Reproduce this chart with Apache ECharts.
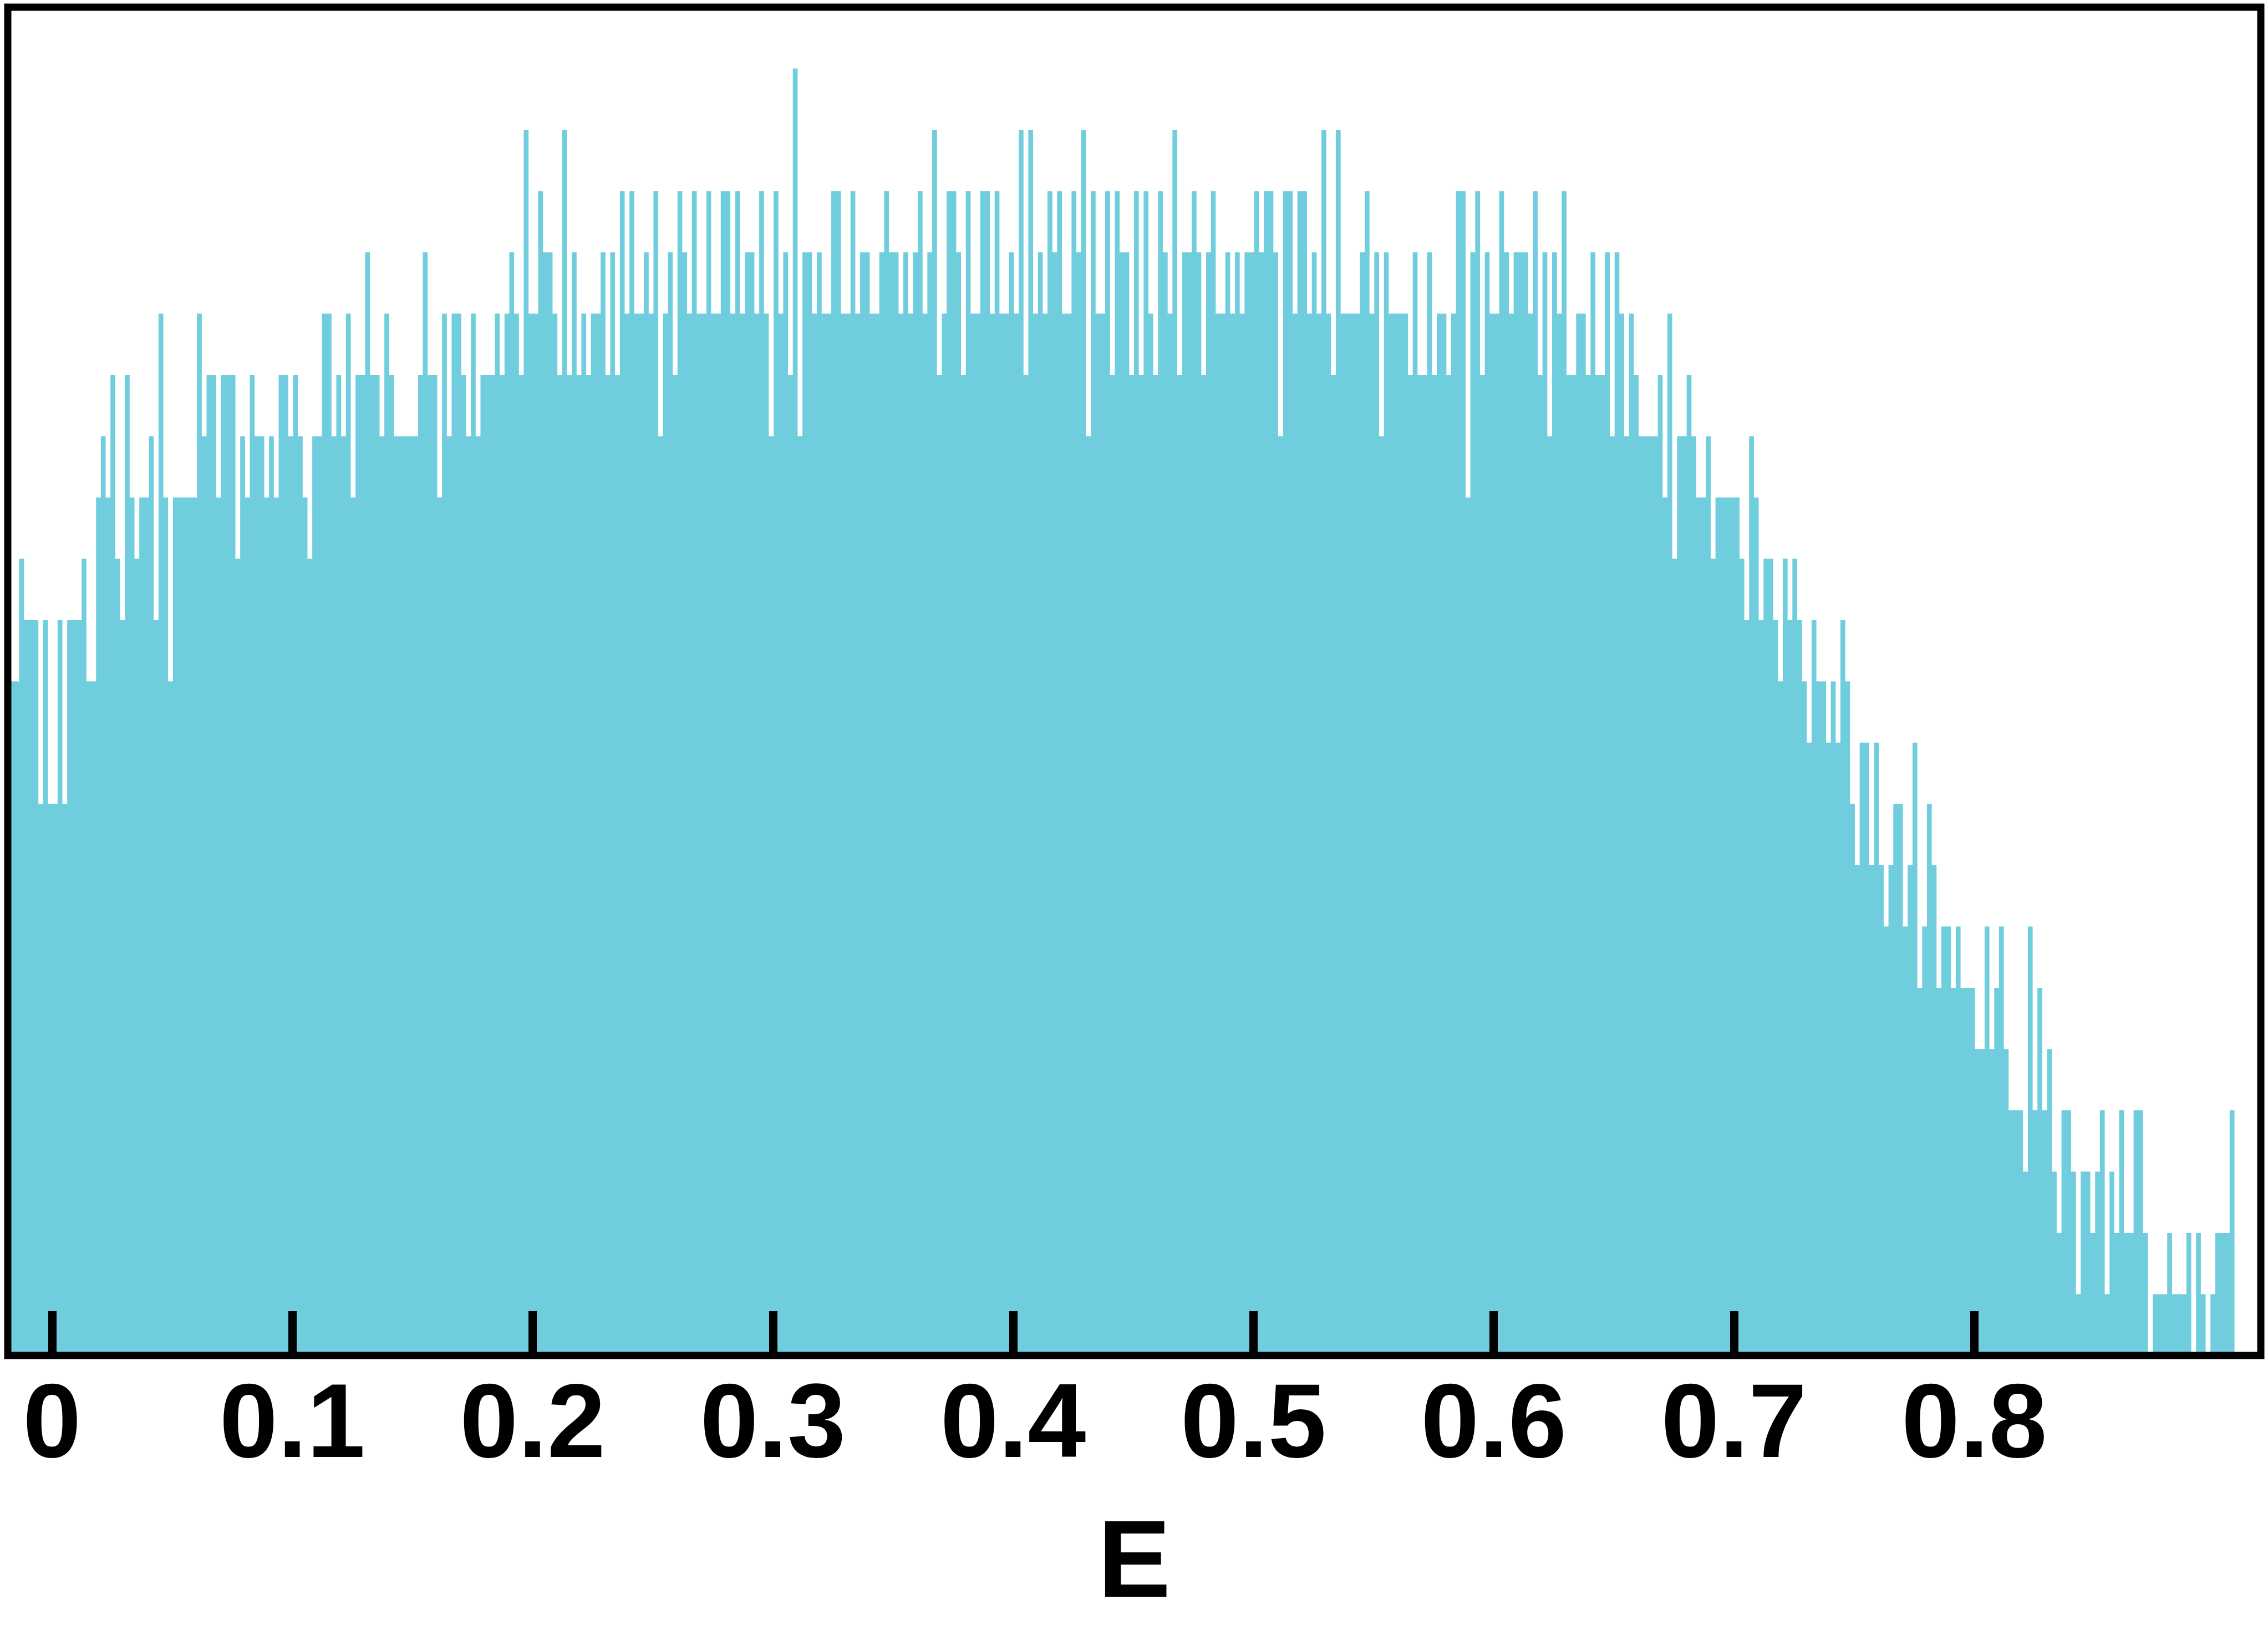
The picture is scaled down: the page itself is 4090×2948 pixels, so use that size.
<!DOCTYPE html>
<html>
<head>
<meta charset="utf-8">
<title>E histogram</title>
<script src="https://cdn.jsdelivr.net/npm/echarts@6/dist/echarts.min.js"></script>
<style>
  html, body { margin: 0; padding: 0; background: #fff; }
  #chart { width: 4090px; height: 2948px; }
</style>
</head>
<body>
<div id="chart"></div>
<script>
// histogram bins: left edge of the first bin and the bin width (in E)
const binStart = -0.0217;
const binWidth = 0.002;

// counts per bin
const counts = [
  15, 13, 11, 11, 13, 12, 12, 12, 9, 12, 9, 9, 12, 9, 12, 12, 12, 13, 11, 11,
  14, 15, 14, 16, 13, 12, 16, 14, 13, 14, 14, 15, 12, 17, 14, 11, 14, 14, 14, 14,
  14, 17, 15, 16, 16, 14, 16, 16, 16, 13, 15, 14, 16, 15, 15, 14, 15, 14, 16, 16,
  15, 16, 15, 14, 13, 15, 15, 17, 17, 15, 16, 15, 17, 14, 16, 16, 18, 16, 16, 15,
  17, 16, 15, 15, 15, 15, 15, 16, 18, 16, 16, 14, 17, 15, 17, 17, 16, 15, 17, 15,
  16, 16, 16, 17, 16, 17, 18, 17, 16, 20, 17, 17, 19, 18, 18, 17, 16, 20, 16, 18,
  16, 17, 16, 17, 17, 18, 16, 18, 16, 19, 17, 19, 17, 17, 18, 17, 19, 15, 17, 18,
  16, 19, 18, 17, 19, 17, 17, 19, 17, 17, 19, 19, 17, 19, 17, 18, 18, 17, 19, 17,
  15, 19, 17, 18, 16, 21, 15, 18, 18, 17, 18, 17, 17, 19, 19, 17, 17, 19, 17, 18,
  18, 17, 17, 18, 19, 18, 18, 17, 18, 17, 18, 19, 17, 18, 20, 16, 17, 19, 19, 18,
  16, 19, 17, 17, 19, 19, 17, 19, 17, 17, 18, 17, 20, 16, 20, 17, 18, 17, 19, 18,
  19, 17, 17, 19, 18, 20, 15, 19, 17, 17, 19, 16, 19, 18, 18, 16, 19, 16, 19, 17,
  16, 19, 18, 17, 20, 16, 18, 18, 19, 18, 16, 18, 19, 17, 17, 18, 17, 18, 17, 18,
  18, 19, 18, 19, 19, 18, 15, 19, 19, 17, 19, 19, 17, 18, 17, 20, 17, 16, 20, 17,
  17, 17, 17, 18, 19, 17, 18, 15, 18, 17, 17, 17, 17, 16, 18, 16, 16, 18, 16, 17,
  17, 16, 17, 19, 19, 14, 18, 19, 16, 18, 17, 17, 19, 18, 17, 18, 18, 18, 17, 19,
  16, 18, 15, 18, 17, 19, 16, 16, 17, 17, 16, 18, 16, 16, 18, 15, 18, 17, 15, 17,
  16, 15, 15, 15, 15, 16, 14, 17, 13, 15, 15, 16, 15, 14, 14, 15, 13, 14, 14, 14,
  14, 14, 13, 12, 15, 14, 12, 13, 13, 12, 11, 13, 12, 13, 12, 11, 10, 12, 11, 11,
  10, 11, 10, 12, 11, 9, 8, 10, 10, 8, 10, 8, 7, 8, 9, 9, 7, 8, 10, 6,
  7, 9, 8, 6, 7, 7, 6, 7, 6, 6, 6, 5, 5, 7, 5, 6, 7, 5, 4, 4,
  4, 3, 7, 4, 6, 4, 5, 3, 2, 4, 4, 3, 1, 3, 3, 2, 3, 4, 1, 3,
  2, 4, 2, 2, 4, 4, 2, 0, 1, 1, 1, 2, 1, 1, 1, 2, 0, 2, 1, 0,
  1, 2, 2, 2, 4, 0, 0, 0, 0, 0, 0, 1
];

// x ticks and labels
const tickValues = [0, 0.1, 0.2, 0.3, 0.4, 0.5, 0.6, 0.7, 0.8];
const axisName = 'E';

// visible E range of the frame, and count range
const xMin = -0.01844;
const xMax = 0.91925;
const yMax = 22;

const barColor = '#70CDDD';
const fontFamily = "'Liberation Sans', Arial, Helvetica, sans-serif";

// step outline: one point at each bin's left edge, closed at the right edge of the last bin
const stepData = counts.map((c, i) => [binStart + i * binWidth, c]);
stepData.push([binStart + counts.length * binWidth, 0]);

const chart = echarts.init(document.getElementById('chart'));
chart.setOption({
  animation: false,
  backgroundColor: '#ffffff',
  grid: {
    left: 14,
    right: 13,
    top: 13,
    bottom: 504,
    show: true,
    borderColor: '#000000',
    borderWidth: 13,
    backgroundColor: 'transparent',
    z: 10,
    containLabel: false,
    outerBoundsMode: 'none'
  },
  xAxis: {
    type: 'value',
    min: xMin,
    max: xMax,
    z: 10,
    axisLine: { show: false },
    splitLine: { show: false },
    axisTick: {
      show: true,
      inside: true,
      length: 80,
      customValues: tickValues,
      lineStyle: { color: '#000000', width: 15 }
    },
    axisLabel: {
      customValues: tickValues,
      margin: 36,
      color: '#000000',
      fontFamily: fontFamily,
      fontWeight: 'bold',
      fontSize: 189
    },
    name: axisName,
    nameLocation: 'middle',
    nameGap: 282,
    nameTextStyle: {
      color: '#000000',
      fontFamily: fontFamily,
      fontWeight: 'bold',
      fontSize: 197
    }
  },
  yAxis: {
    type: 'value',
    min: 0,
    max: yMax,
    show: false
  },
  series: [
    {
      type: 'line',
      step: 'end',
      data: stepData,
      symbol: 'none',
      showSymbol: false,
      clip: false,
      silent: true,
      lineStyle: { width: 0, opacity: 0 },
      areaStyle: { color: barColor, opacity: 1 },
      z: 2
    }
  ]
});
</script>
</body>
</html>
